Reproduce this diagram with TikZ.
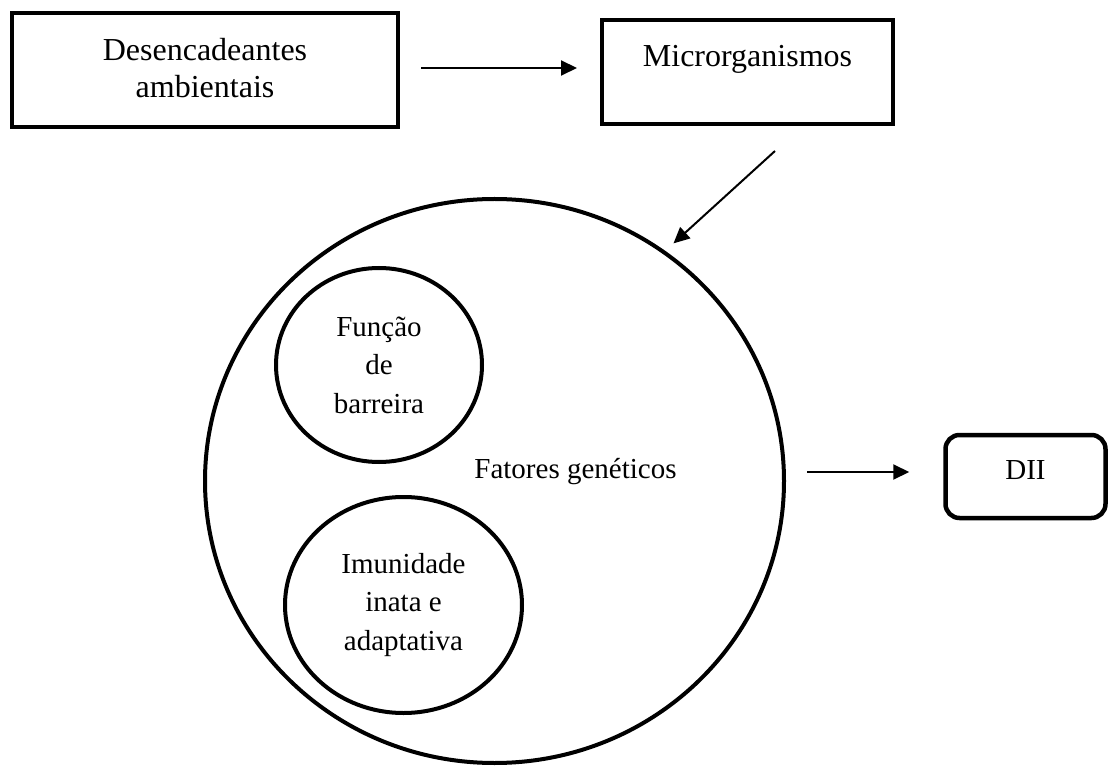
\documentclass[tikz,border=0pt]{standalone}
\usepackage{fontspec}
\setmainfont{Liberation Serif}
\usetikzlibrary{shapes.geometric,arrows.meta}
\begin{document}
\begin{tikzpicture}[x=1pt,y=-1pt,
  boxA/.style={draw,line width=4.5pt,inner sep=0pt,align=center,font=\fontsize{32}{37}\selectfont},
  circ/.style={draw,ellipse,line width=4pt,inner sep=0pt,align=center,font=\fontsize{29}{38.5}\selectfont},
  txt/.style={inner sep=0pt,font=\fontsize{29}{38.5}\selectfont},
  arr/.style={line width=2pt,-{Triangle[length=16pt,width=15pt]}}]
\useasboundingbox (0,0) rectangle (1109,767);
\node (b1) [boxA,minimum width=386pt,minimum height=114pt] at (205,70) {Desencadeantes\\ambientais\rule[-5pt]{0pt}{5pt}};
\node (b2) [boxA,minimum width=291pt,minimum height=104pt,text height=22pt,text depth=32pt] at (747.5,72) {Microrganismos};
\node (big) [circ,minimum width=579pt,minimum height=564pt] at (494.5,481) {};
\node (fg) [txt,anchor=base] at (575.5,478) {Fatores genéticos};
\node (c1) [circ,minimum width=206pt,minimum height=194pt] at (379,365) {Função\\de\\barreira};
\node (c2) [circ,minimum width=237pt,minimum height=216pt] at (403.5,605) {Imunidade\\inata e\\adaptativa};
\node (dii) [boxA,rounded corners=14pt,minimum width=160pt,minimum height=83pt,text height=20pt,text depth=15pt,font=\fontsize{29}{35}\selectfont] at (1025.5,476.5) {DII};
\draw[arr] ([shift={(21,-2)}]b1.east) -- ([shift={(-22.75,-4)}]b2.west);
\draw[arr] ([shift={(27.5,24.75)}]b2.south) -- ([shift={(6.5,-8.7)}]big.53.1);
\draw[arr] ([shift={(21,-9)}]big.east) -- ([shift={(-34,-4.5)}]dii.west);
\end{tikzpicture}
\end{document}
